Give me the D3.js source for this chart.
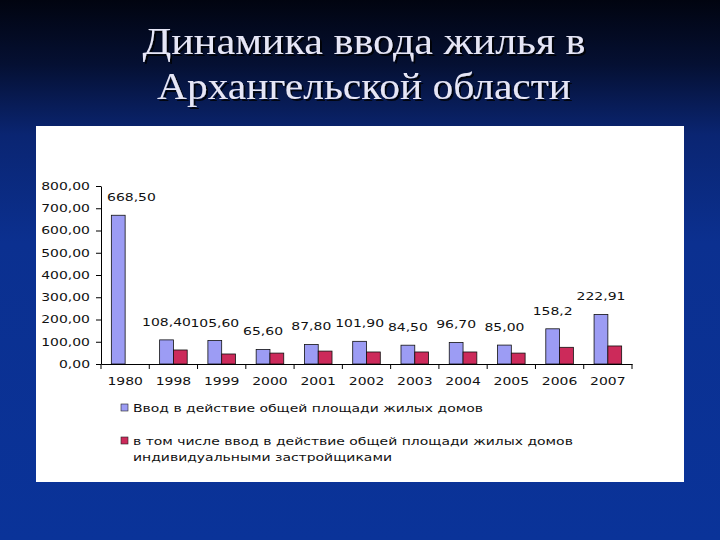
<!DOCTYPE html>
<html>
<head>
<meta charset="utf-8">
<script src="https://cdn.jsdelivr.net/npm/d3@7"></script>
<style>
  body { margin: 0; background: #000; }
  svg { display: block; }
  .tick text, .lbl { font-family: 'DejaVu Sans', Verdana, sans-serif; font-size: 10.5px; fill: #111; }
</style>
</head>
<body>
<svg id="chart"></svg>
<script>
const width = 720
const height = 540

// data
const years = ['1980', '1998', '1999', '2000', '2001', '2002', '2003', '2004', '2005', '2006', '2007']
const totalArea = [668.5, 108.4, 105.6, 65.6, 87.8, 101.9, 84.5, 96.7, 85.0, 158.2, 222.91]
const individualArea = [0, 63, 45, 49, 58, 54, 54, 54, 49, 75, 81]
const totalLabels = ['668,50', '108,40', '105,60', '65,60', '87,80', '101,90', '84,50', '96,70', '85,00', '158,2', '222,91']
const yTicks = [0, 100, 200, 300, 400, 500, 600, 700, 800]
const seriesNames = [
  ['Ввод в действие общей площади жилых домов'],
  ['в том числе ввод в действие общей площади жилых домов', 'индивидуальными застройщиками']
]
const titleLines = ['Динамика ввода жилья в', 'Архангельской области']

const colors = ['#9c9cf4', '#cc2a5a']
const stretch = 1.33 // the chart picture was widened on the slide

const svg = d3.select('#chart').attr('width', width).attr('height', height)

// slide background
const defs = svg.append('defs')
const grad = defs.append('linearGradient').attr('id', 'bg')
  .attr('x1', 0).attr('y1', 0).attr('x2', 0).attr('y2', 1)
grad.append('stop').attr('offset', '0%').attr('stop-color', '#010410')
grad.append('stop').attr('offset', '12%').attr('stop-color', '#051033')
grad.append('stop').attr('offset', '25%').attr('stop-color', '#0a2572')
grad.append('stop').attr('offset', '45%').attr('stop-color', '#0b3090')
grad.append('stop').attr('offset', '100%').attr('stop-color', '#0a3399')
svg.append('rect').attr('width', width).attr('height', height).attr('fill', 'url(#bg)')

const shadow = defs.append('filter').attr('id', 'shadow')
shadow.append('feDropShadow')
  .attr('dx', 2).attr('dy', 2).attr('stdDeviation', 0.6)
  .attr('flood-color', '#000').attr('flood-opacity', 0.8)

// title
const titleWidths = [443, 414]
titleLines.forEach(function (t, i) {
  svg.append('text')
    .attr('x', 364).attr('y', 54 + i * 45)
    .attr('text-anchor', 'middle')
    .attr('font-family', "'Liberation Serif', 'Times New Roman', serif")
    .attr('font-size', 37)
    .attr('textLength', titleWidths[i])
    .attr('lengthAdjust', 'spacingAndGlyphs')
    .attr('fill', '#e6e6f6')
    .attr('filter', 'url(#shadow)')
    .text(t)
})

// white chart panel
svg.append('rect')
  .attr('x', 36).attr('y', 126).attr('width', 648).attr('height', 356)
  .attr('fill', '#fff')

// scales
const x = d3.scaleBand().domain(years).range([101, 632]).padding(0)
const sub = d3.scaleBand().domain([0, 1]).range([0, x.bandwidth()]).paddingInner(0).paddingOuter(0.75)
const y = d3.scaleLinear().domain([0, 800]).range([364, 186])

const fmt = (v) => d3.format('.2f')(v).replace('.', ',')

// y axis
const yAxis = svg.append('g')
  .attr('transform', 'translate(101,0)')
  .call(d3.axisLeft(y).tickValues(yTicks).tickSize(5).tickSizeOuter(0).tickFormat(fmt))
yAxis.select('.domain').attr('stroke', '#000')
yAxis.selectAll('.tick line').attr('stroke', '#000')
yAxis.selectAll('.tick text')
  .attr('x', -11 / stretch)
  .attr('transform', 'scale(' + stretch + ',1)')

// bars
const rows = years.map((yr, i) => ({ year: yr, vals: [totalArea[i], individualArea[i]] }))
const groups = svg.append('g').selectAll('g')
  .data(rows)
  .join('g')
  .attr('transform', (d) => 'translate(' + x(d.year) + ',0)')
groups.selectAll('rect')
  .data((d) => d.vals.map((v, k) => ({ k: k, v: v })).filter((e) => e.v > 0))
  .join('rect')
  .attr('x', (e) => sub(e.k))
  .attr('y', (e) => y(e.v))
  .attr('width', sub.bandwidth())
  .attr('height', (e) => y(0) - y(e.v))
  .attr('fill', (e) => colors[e.k])
  .attr('stroke', '#111')
  .attr('stroke-width', 0.8)

// x axis
const xAxis = svg.append('g')
  .attr('transform', 'translate(0,' + y(0) + ')')
  .call(d3.axisBottom(x).tickSize(0).tickSizeOuter(0).tickPadding(14))
xAxis.select('.domain').attr('stroke', '#000')
xAxis.selectAll('.tick text')
  .attr('transform', 'scale(' + stretch + ',1)')
xAxis.selectAll('.sep')
  .data(years.concat(['end']))
  .join('line')
  .attr('class', 'sep')
  .attr('x1', (d) => (d === 'end' ? x.range()[1] : x(d)))
  .attr('x2', (d) => (d === 'end' ? x.range()[1] : x(d)))
  .attr('y1', 0).attr('y2', 5)
  .attr('stroke', '#000')

// value labels above the first series, kept clear of the y axis
const labels = svg.append('g').selectAll('g')
  .data(rows)
  .join('g')
labels.append('text')
  .attr('class', 'lbl')
  .attr('text-anchor', 'middle')
  .text((d, i) => totalLabels[i])
labels.attr('transform', function (d) {
  const half = this.getBBox().width * stretch / 2
  const cx = Math.max(x(d.year) + sub(0) + sub.bandwidth() / 2, x.range()[0] + 6 + half)
  return 'translate(' + cx + ',' + (y(d.vals[0]) - 14) + ') scale(' + stretch + ',1)'
})

// legend
const legend = svg.append('g')
const legendY = [408, 441]
seriesNames.forEach(function (lines, k) {
  legend.append('rect')
    .attr('x', 121).attr('y', legendY[k] - 4).attr('width', 7).attr('height', 7)
    .attr('fill', colors[k]).attr('stroke', '#222').attr('stroke-width', 0.6)
  lines.forEach(function (t, j) {
    legend.append('g')
      .attr('transform', 'translate(133,' + (legendY[k] + 4 + j * 16) + ') scale(' + stretch + ',1)')
      .append('text')
      .attr('class', 'lbl')
      .text(t)
  })
})
</script>
</body>
</html>
